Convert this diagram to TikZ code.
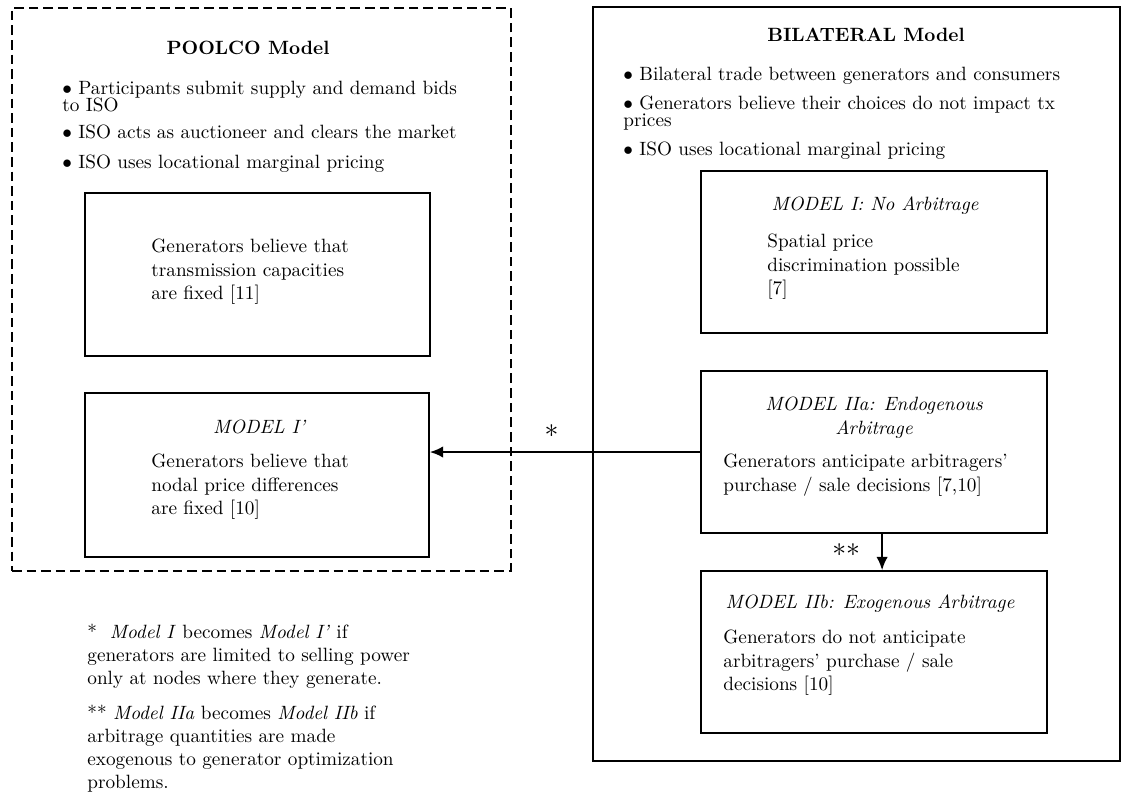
\documentclass[tikz,border=0pt]{standalone}
\usetikzlibrary{fit,arrows.meta}
\begin{document}
\begin{tikzpicture}[
  x=0.52pt, y=-0.52pt,
  frame/.style={draw, line width=0.7pt, inner sep=0pt},
  pool/.style={draw, line width=1.1pt, dash pattern=on 5pt off 2.6pt, inner sep=0pt},
  txt/.style={anchor=north west, inner sep=0pt, align=left},
  ttl/.style={anchor=base, inner sep=0pt, font=\bfseries},
  mdl/.style={anchor=base, inner sep=0pt, font=\itshape},
  lbl/.style={inner sep=0pt, font=\Large},
  >={Latex[length=7pt,width=6pt]}
]
  \useasboundingbox (0,0) rectangle (1128,791);

  % ================= LEFT: POOLCO =================
  \node[pool, fit={(12,8) (511,571)}] (poolco) {};
  \node[ttl] (poolttl) at (248,54) {POOLCO Model};
  \node[txt] (poolpts) at (62,81)
    {$\bullet$ Participants submit supply and demand bids\\[-3.2pt]
     to ISO\\[2pt]
     $\bullet$ ISO acts as auctioneer and clears the market\\[3.6pt]
     $\bullet$ ISO uses locational marginal pricing};

  \node[frame, fit={(85,193) (430,356)}] (tcap) {};
  \node[txt] (tcaptxt) at (151,239)
    {Generators believe that\\
     transmission capacities\\
     are fixed [11]};

  \node[frame, fit={(85,393) (429,557)}] (ip) {};
  \node[mdl] (ipttl) at (259,433) {MODEL I'};
  \node[txt] (iptxt) at (151,454)
    {Generators believe that\\
     nodal price differences\\
     are fixed [10]};

  % footnotes
  \node[txt] (notes) at (87,624)
    {*\ \ \textit{Model I} becomes \textit{Model I'} if\\
     generators are limited to selling power\\
     only at nodes where they generate.\\[5.7pt]
     ** \textit{Model IIa} becomes \textit{Model IIb} if\\
     arbitrage quantities are made\\
     exogenous to generator optimization\\
     problems.};

  % ================= RIGHT: BILATERAL =================
  \node[frame, fit={(593,7) (1120,761)}] (bilat) {};
  \node[ttl] (bilttl) at (866,41) {BILATERAL Model};
  \node[txt] (bilpts) at (623,67)
    {$\bullet$ Bilateral trade between generators and consumers\\[3.1pt]
     $\bullet$ Generators believe their choices do not impact tx\\[-3.2pt]
     prices\\[3.1pt]
     $\bullet$ ISO uses locational marginal pricing};

  \node[frame, fit={(701,171) (1047,333)}] (mi) {};
  \node[mdl] (mittl) at (875,210) {MODEL I: No Arbitrage};
  \node[txt] (mitxt) at (767,234)
    {Spatial price\\
     discrimination possible\\
     {[7]}};

  \node[frame, fit={(701,371) (1047,533)}] (iia) {};
  \node[anchor=north, inner sep=0pt, align=center, font=\itshape] (iiattl) at (874,397)
    {MODEL IIa: Endogenous\\ Arbitrage};
  \node[txt] (iiatxt) at (723,454)
    {Generators anticipate arbitragers'\\
     purchase / sale decisions [7,10]};

  \node[frame, fit={(701,571) (1047,733)}] (iib) {};
  \node[mdl] (iibttl) at (870,608) {MODEL IIb: Exogenous Arbitrage};
  \node[txt] (iibtxt) at (723,630)
    {Generators do not anticipate\\
     arbitragers' purchase / sale\\
     decisions [10]};

  % connectors
  \draw[->, line width=1.2pt] (iia.west) -- (iia.west -| ip.east)
    node[lbl, pos=0.55, yshift=11pt] {$\ast$};
  \draw[->, line width=1.2pt] ([xshift=4.2pt]iia.south) -- ([xshift=4.2pt]iib.north)
    node[lbl, pos=0.45, xshift=-18.7pt] {$\ast\ast$};
\end{tikzpicture}
\end{document}
